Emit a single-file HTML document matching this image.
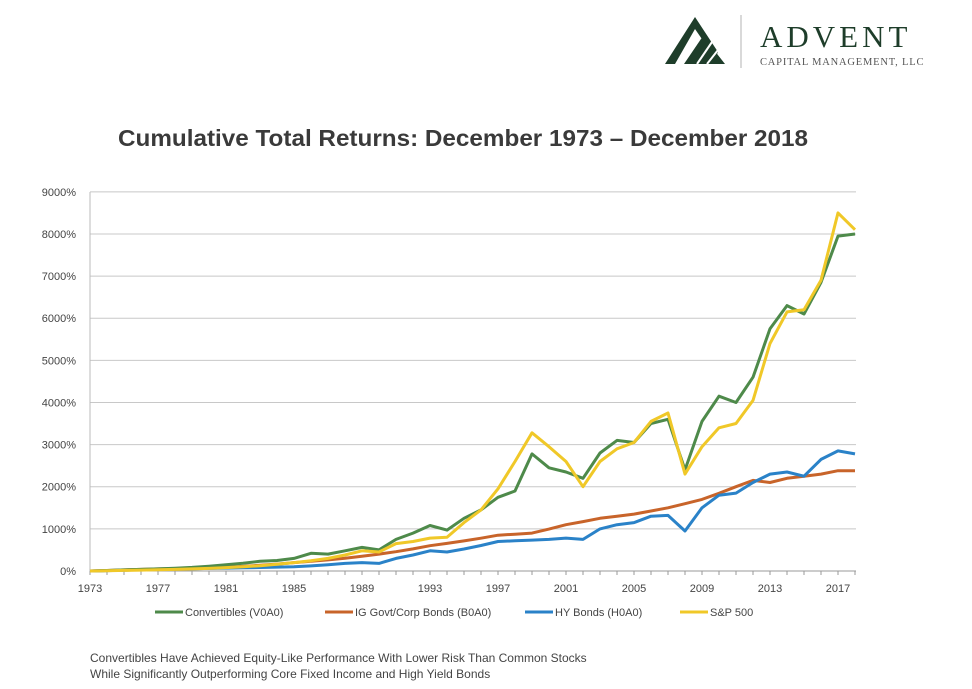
<!DOCTYPE html>
<html><head><meta charset="utf-8"><style>
body{margin:0;background:#fff;width:972px;height:684px;overflow:hidden;font-family:"Liberation Sans",sans-serif}
</style></head><body>
<svg width="972" height="684" xmlns="http://www.w3.org/2000/svg" font-family="Liberation Sans, sans-serif">
<polygon points="665,64 695,17 718,52 715,58 695,29 675,64" fill="#1e3d2a"/>
<polygon points="684,64 703,36 725,64" fill="#1e3d2a"/>
<line x1="697" y1="64" x2="712" y2="42" stroke="#fff" stroke-width="2"/>
<line x1="707" y1="64" x2="718" y2="50" stroke="#fff" stroke-width="2"/>
<line x1="741" y1="15" x2="741" y2="68" stroke="#ccc" stroke-width="1.5"/>
<text x="760" y="47" font-family="Liberation Serif, serif" font-size="31" fill="#1e3d2a" letter-spacing="4">ADVENT</text>
<text x="760" y="65" font-family="Liberation Serif, serif" font-size="10.5" fill="#555" letter-spacing="0.8">CAPITAL MANAGEMENT, LLC</text>
<text x="463" y="146" text-anchor="middle" font-size="23" font-weight="bold" fill="#3a3a3a" textLength="690" lengthAdjust="spacingAndGlyphs">Cumulative Total Returns: December 1973 – December 2018</text>
<g id="grid" stroke="#c8c8c8" stroke-width="1"></g>
<g id="ylab" font-size="11" fill="#444" text-anchor="end"></g>
<g id="xlab" font-size="11" fill="#444" text-anchor="middle"></g>
<g id="series" fill="none" stroke-width="3" stroke-linejoin="round"></g>
<g font-size="11" fill="#444">
<line x1="155" y1="612" x2="183" y2="612" stroke="#4e8a4a" stroke-width="3"/><text x="185" y="616">Convertibles (V0A0)</text>
<line x1="325" y1="612" x2="353" y2="612" stroke="#c8642a" stroke-width="3"/><text x="355" y="616">IG Govt/Corp Bonds (B0A0)</text>
<line x1="525" y1="612" x2="553" y2="612" stroke="#2a82c8" stroke-width="3"/><text x="555" y="616">HY Bonds (H0A0)</text>
<line x1="680" y1="612" x2="708" y2="612" stroke="#f0c828" stroke-width="3"/><text x="710" y="616">S&amp;P 500</text>
</g>
<text x="90" y="662" font-size="12" fill="#444">Convertibles Have Achieved Equity-Like Performance With Lower Risk Than Common Stocks</text>
<text x="90" y="678" font-size="12" fill="#444">While Significantly Outperforming Core Fixed Income and High Yield Bonds</text>
</svg>
<script>
var ns="http://www.w3.org/2000/svg";
function el(p,t,a,txt){var e=document.createElementNS(ns,t);for(var k in a)e.setAttribute(k,a[k]);if(txt)e.textContent=txt;document.getElementById(p).appendChild(e);}
var X0=90,XS=17,Y0=571,YS=0.04213;
for(var i=0;i<=9;i++){var y=Y0-i*1000*YS;el("grid","line",{x1:X0,x2:856,y1:y,y2:y,stroke:i==0?"#999":"#c8c8c8"});el("ylab","text",{x:76,y:y+4},i*1000+"%");}
el("grid","line",{x1:X0,x2:X0,y1:192,y2:571,stroke:"#bbb"});
for(var yr=1973;yr<=2018;yr++){var x=X0+(yr-1973)*XS;el("grid","line",{x1:x,x2:x,y1:571,y2:575,stroke:"#999"});if((yr-1973)%4==0)el("xlab","text",{x:x,y:592},yr);}
function interp(k){var o=[];var ks=Object.keys(k).map(Number).sort(function(a,b){return a-b});for(var yr=1973;yr<=2018;yr++){for(var j=0;j<ks.length-1;j++){if(yr>=ks[j]&&yr<=ks[j+1]){var t=(yr-ks[j])/(ks[j+1]-ks[j]);o.push(k[ks[j]]*Math.pow(k[ks[j+1]]/Math.max(k[ks[j]],1),t)*(k[ks[j]]<=1?0:1)+(k[ks[j]]<=1?k[ks[j+1]]*t:0));break;}}}return o;}
function draw(k,c){var v=interp(k);var d=v.map(function(val,i){return (i?"L":"M")+(X0+i*XS)+","+(Y0-val*YS).toFixed(1)}).join("");el("series","path",{d:d,stroke:c});}
var hy={1973:0,1977:40,1981:70,1985:100,1988:180,1989:200,1990:180,1991:300,1993:480,1994:450,1997:700,2000:750,2001:780,2002:750,2003:1000,2004:1100,2005:1150,2006:1300,2007:1320,2008:950,2009:1500,2010:1800,2011:1850,2012:2100,2013:2300,2014:2350,2015:2250,2016:2650,2017:2850,2018:2780};
var ig={1973:0,1977:50,1981:90,1985:200,1989:350,1993:600,1997:850,1999:900,2001:1100,2003:1250,2005:1350,2007:1500,2009:1700,2011:2000,2012:2150,2013:2100,2014:2200,2016:2300,2017:2380,2018:2380};
var sp={1973:0,1977:30,1981:80,1985:200,1987:300,1989:480,1990:450,1991:650,1992:700,1993:780,1994:800,1995:1150,1996:1450,1997:1950,1998:2600,1999:3280,2000:2950,2001:2600,2002:2000,2003:2600,2004:2900,2005:3050,2006:3550,2007:3750,2008:2300,2009:2950,2010:3400,2011:3500,2012:4050,2013:5400,2014:6150,2015:6200,2016:6900,2017:8500,2018:8100};
var cv={1973:0,1977:50,1981:150,1983:230,1984:250,1985:300,1986:420,1987:400,1988:480,1989:560,1990:500,1991:750,1992:900,1993:1080,1994:970,1995:1250,1996:1450,1997:1750,1998:1900,1999:2780,2000:2450,2001:2350,2002:2200,2003:2800,2004:3100,2005:3050,2006:3500,2007:3600,2008:2400,2009:3550,2010:4150,2011:4000,2012:4600,2013:5750,2014:6300,2015:6100,2016:6850,2017:7950,2018:8000};
draw(ig,"#c8642a");draw(hy,"#2a82c8");draw(cv,"#4e8a4a");draw(sp,"#f0c828");
</script>
</body></html>
